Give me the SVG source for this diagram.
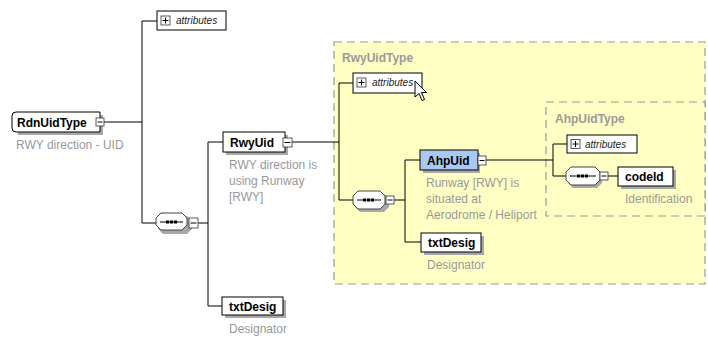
<svg xmlns="http://www.w3.org/2000/svg" width="708" height="337" viewBox="0 0 708 337">
<defs>
<style>
.bg{fill:#fff}
.region{fill:#ffffc4;stroke:#9a9a9a;stroke-width:1.2;stroke-dasharray:8 5}
.box{fill:#fff;stroke:#000;stroke-width:1}
.shadow{fill:#a8a8a8}
.blue{fill:#a9c9f2;stroke:#000;stroke-width:1}
.attr{fill:#fff;stroke:#000;stroke-width:1}
.small{fill:#fff;stroke:#333;stroke-width:0.8}
.sym{stroke:#000;stroke-width:1;fill:none}
.con{stroke:#000;stroke-width:1;fill:none}
.name{font-family:"Liberation Sans",Arial,sans-serif;font-size:12px;font-weight:bold;fill:#000}
.doc{font-family:"Liberation Sans",Arial,sans-serif;font-size:12px;fill:#999}
.rlabel{font-family:"Liberation Sans",Arial,sans-serif;font-size:12px;font-weight:bold;fill:#9a9a9a}
.at{font-family:"Liberation Sans",Arial,sans-serif;font-size:10px;font-style:italic;fill:#222}
.oct{fill:#fff;stroke:#444;stroke-width:1}
</style>
</defs>
<rect class="bg" x="0" y="0" width="708" height="337"/>

<g id="RwyUidType-region">
<rect class="region" x="334" y="42" width="371" height="242"/>
<text class="rlabel" x="342" y="62">RwyUidType</text>
</g>
<g id="AhpUidType-region">
<rect class="region" x="546" y="102" width="159" height="114"/>
<text class="rlabel" x="555" y="123">AhpUidType</text>
</g>

<g id="connectors">
<path class="con" d="M104 122H142M142 21V223M142 21H157M142 223H156M198 223H208M208 142V306M208 142H223M208 306H222"/>
<path class="con" d="M292 142H339M339 83V200M339 83H353M339 200H353M394 200H405M405 160V242M405 160H420M405 242H421"/>
<path class="con" d="M486 160H553M553 144V176M553 144H567M553 176H566M608 176H618"/>
</g>

<g id="RdnUidType">
<path class="shadow" d="M18 115H103V135H18Z"/>
<path class="box" d="M16 112H100V132H16Q12 132 12 128V116Q12 112 16 112Z"/>
<text class="name" x="17" y="127">RdnUidType</text>
<rect class="small" x="96" y="118" width="8" height="8"/>
<path class="sym" d="M97.5 122H102.5"/>
<text class="doc" x="16" y="149">RWY direction - UID</text>
</g>

<g id="attributes1">
<rect class="attr" x="157" y="11" width="69" height="19"/>
<rect class="small" x="161" y="16" width="9" height="9"/>
<path class="sym" d="M162.5 20.5H168.5M165.5 17.5V23.5"/>
<text class="at" x="176" y="24">attributes</text>
</g>

<g id="sequence1">
<path class="shadow" d="M163 216H187L192 221V229L187 234H163L158 229V221Z"/>
<path class="oct" d="M161 213H182L187 218V225L182 230H161L156 225V218Z"/>
<path class="sym" d="M160 222H183"/>
<rect x="166" y="220.5" width="3" height="3" fill="#000"/>
<rect x="170" y="220.5" width="3" height="3" fill="#000"/>
<rect x="174" y="220.5" width="3" height="3" fill="#000"/>
<rect class="small" x="189" y="218" width="9" height="10"/>
<path class="sym" d="M190.5 223H196.5"/>
</g>

<g id="RwyUid">
<rect class="shadow" x="226" y="135" width="62" height="20"/>
<rect class="box" x="223" y="132" width="62" height="20"/>
<text class="name" x="230" y="147">RwyUid</text>
<rect class="small" x="283" y="138" width="9" height="9"/>
<path class="sym" d="M284.5 142.5H290.5"/>
<text class="doc" x="229" y="169">RWY direction is</text>
<text class="doc" x="229" y="185">using Runway</text>
<text class="doc" x="229" y="201">[RWY]</text>
</g>

<g id="txtDesig1">
<rect class="shadow" x="225" y="300" width="61" height="18"/>
<rect class="box" x="222" y="297" width="61" height="18"/>
<text class="name" x="229" y="311">txtDesig</text>
<text class="doc" x="229" y="333">Designator</text>
</g>

<g id="attributes2">
<rect class="attr" x="353" y="73" width="69" height="20"/>
<rect class="small" x="357" y="78" width="9" height="9"/>
<path class="sym" d="M358.5 82.5H364.5M361.5 79.5V85.5"/>
<text class="at" x="372" y="86">attributes</text>
<path d="M415 81V97L419 93.5L422 100.5L424.5 99.5L421.5 92.5L426.5 92.5Z" fill="#fff" stroke="#000" stroke-width="1"/>
</g>

<g id="sequence2">
<path class="shadow" d="M360 194H384L389 199V207L384 212H360L355 207V199Z"/>
<path class="oct" d="M358 191H380L385 196V204L380 209H358L353 204V196Z"/>
<path class="sym" d="M357 200H381"/>
<rect x="363" y="198.5" width="3" height="3" fill="#000"/>
<rect x="367" y="198.5" width="3" height="3" fill="#000"/>
<rect x="371" y="198.5" width="3" height="3" fill="#000"/>
<rect class="small" x="386" y="196" width="8" height="8"/>
<path class="sym" d="M387.5 200H392.5"/>
</g>

<g id="AhpUid">
<rect class="shadow" x="423" y="153" width="57" height="20"/>
<rect class="blue" x="420" y="150" width="58" height="20"/>
<text class="name" x="427" y="165" fill="#000">AhpUid</text>
<rect class="small" x="478" y="156" width="8" height="9"/>
<path class="sym" d="M479.5 160.5H484.5"/>
<text class="doc" x="426" y="187">Runway [RWY] is</text>
<text class="doc" x="426" y="203">situated at</text>
<text class="doc" x="426" y="219">Aerodrome / Heliport</text>
</g>

<g id="txtDesig2">
<rect class="shadow" x="424" y="236" width="60" height="19"/>
<rect class="box" x="421" y="233" width="60" height="19"/>
<text class="name" x="428" y="247">txtDesig</text>
<text class="doc" x="427" y="269">Designator</text>
</g>

<g id="attributes3">
<rect class="attr" x="567" y="135" width="70" height="18"/>
<rect class="small" x="571" y="139.5" width="9" height="9"/>
<path class="sym" d="M572.5 144H578.5M575.5 141V147"/>
<text class="at" x="585" y="148">attributes</text>
</g>

<g id="sequence3">
<path class="shadow" d="M573 170H597L602 175V183L597 188H573L568 183V175Z"/>
<path class="oct" d="M571 167H595L600 172V180L595 185H571L566 180V172Z"/>
<path class="sym" d="M570 176H596"/>
<rect x="577" y="174.5" width="3" height="3" fill="#000"/>
<rect x="581" y="174.5" width="3" height="3" fill="#000"/>
<rect x="585" y="174.5" width="3" height="3" fill="#000"/>
<rect class="small" x="600" y="172" width="8" height="8"/>
<path class="sym" d="M601.5 176H606.5"/>
</g>

<g id="codeId">
<rect class="shadow" x="621" y="170" width="55" height="19"/>
<rect class="box" x="618" y="167" width="55" height="19"/>
<text class="name" x="625" y="181">codeId</text>
<text class="doc" x="625" y="203">Identification</text>
</g>
</svg>
